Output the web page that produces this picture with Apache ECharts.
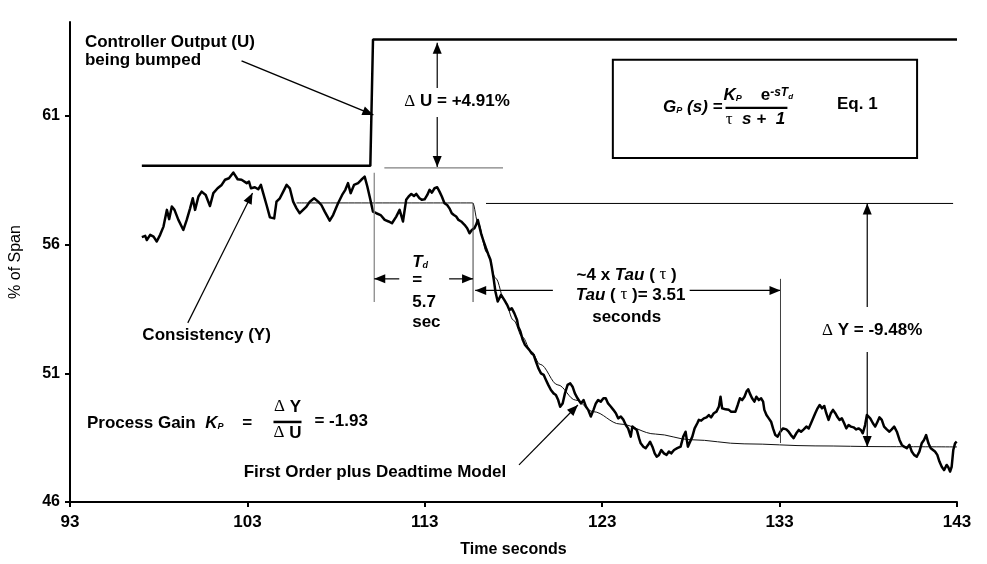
<!DOCTYPE html>
<html><head><meta charset="utf-8">
<script src="https://cdn.jsdelivr.net/npm/echarts@6/dist/echarts.min.js"></script>
<style>html,body{margin:0;padding:0;background:#fff}#c{width:987px;height:564px}</style>
</head><body><div id="c"></div><script>
// ---- data ----
const xTickValues = [93, 103, 113, 123, 133, 143];
const yTickValues = [46, 51, 56, 61];

const consistencyTime = [
97.05,97.24,97.33,97.52,97.71,97.89,98.08,98.27,98.46,98.59,98.74,98.89,99.11,99.39,99.58,99.77,99.92,100.05,100.24,100.42,
100.65,100.89,101.08,101.32,101.55,101.74,101.96,102.21,102.45,102.67,102.96,103.09,103.20,103.42,103.61,103.76,103.89,104.08,104.27,104.51,
104.64,104.83,105.02,105.21,105.39,105.58,105.77,105.95,106.14,106.33,106.52,106.76,106.99,107.17,107.36,107.64,107.83,108.11,108.34,108.52,
108.67,108.82,109.01,109.24,109.42,109.61,109.76,109.89,110.08,110.27,110.51,110.74,110.96,111.15,111.39,111.58,111.77,
111.95,112.09,112.24,112.39,112.52,112.70,112.84,112.99,113.14,113.27,113.40,113.55,113.70,113.83,113.96,114.11,114.26,114.39,114.52,114.64,
114.77,114.90,115.05,115.24,115.39,115.52,115.65,115.80,115.89,115.99,116.08,116.17,116.32,116.45,116.59,116.70,116.77,116.89,116.98,117.11,
117.20,117.30,117.39,117.48,117.64,117.77,117.90,118.05,118.20,118.27,118.39,118.52,118.65,118.76,118.89,119.02,119.14,119.27,119.40,119.55,
119.70,119.83,119.96,120.11,120.26,120.39,120.52,120.63,120.77,120.90,121.05,121.20,121.33,121.46,121.61,121.80,121.95,122.08,122.21,122.36,
122.51,122.64,122.77,122.92,123.07,123.20,123.33,123.48,123.63,123.77,123.90,124.05,124.20,124.33,124.46,124.61,124.70,124.80,124.95,125.08,
125.17,125.32,125.45,125.58,125.70,125.83,125.96,126.07,126.20,126.33,126.48,126.63,126.76,126.89,127.05,127.23,
127.42,127.57,127.70,127.83,127.94,128.08,128.21,128.36,128.45,128.58,128.73,128.88,129.01,129.14,129.29,129.44,129.58,129.67,129.76,129.95,
130.14,130.27,130.38,130.51,130.64,130.76,130.89,131.02,131.13,131.23,131.32,131.45,131.58,131.69,131.83,131.96,132.07,132.14,132.26,132.39,
132.52,132.63,132.76,132.89,133.04,133.19,133.38,133.51,133.64,133.79,133.94,134.08,134.21,134.36,134.51,134.64,134.77,134.88,135.01,135.14,
135.26,135.39,135.52,135.63,135.76,135.89,136.01,136.14,136.27,136.38,136.51,136.64,136.76,136.89,137.02,137.17,137.32,137.45,137.58,137.69,
137.82,137.92,138.01,138.11,138.26,138.39,138.52,138.63,138.76,138.89,139.04,139.19,139.32,139.46,139.61,139.76,139.89,140.02,140.17,140.32,
140.45,140.58,140.73,140.88,141.01,141.14,141.26,141.39,141.52,141.63,141.76,141.89,142.01,142.14,142.27,142.42,142.51,142.61,142.70,142.79,
142.89,142.98
];
const consistencyValue = [
56.29,56.34,56.18,56.38,56.31,56.12,56.38,56.70,57.35,56.99,57.48,57.35,56.96,56.57,56.96,57.41,57.80,57.35,57.87,58.06,
57.93,57.50,58.00,58.19,58.32,58.52,58.58,58.80,58.54,58.52,58.39,58.45,58.19,58.23,58.15,58.32,58.00,57.54,57.06,57.02,
57.67,57.80,58.06,58.32,58.19,57.67,57.41,57.22,57.35,57.48,57.67,57.80,57.67,57.54,57.28,56.93,57.15,57.61,57.93,58.13,
58.39,58.00,58.32,58.39,58.52,58.64,58.26,57.87,57.28,57.22,57.15,56.96,56.90,56.83,57.09,57.35,56.90,
57.74,57.87,57.97,57.89,57.97,57.80,57.74,57.76,57.93,58.13,58.02,58.19,58.23,58.06,57.87,57.61,57.54,57.41,57.22,57.15,
57.09,56.96,56.90,56.77,56.64,56.44,56.57,56.64,56.77,56.96,56.70,56.44,56.12,55.86,55.60,55.41,55.15,54.63,54.18,53.79,
53.85,54.05,54.11,53.85,53.66,53.46,53.53,53.33,53.07,52.81,52.62,52.30,52.10,52.17,51.91,51.78,51.71,51.45,51.20,51.00,
50.94,50.74,50.55,50.35,50.22,50.16,49.96,49.70,49.83,50.22,50.55,50.61,50.48,50.22,50.03,49.83,49.96,49.71,49.58,49.32,
49.58,49.83,49.96,49.90,50.03,50.03,49.83,49.71,49.58,49.45,49.25,49.32,49.19,48.99,48.86,48.54,48.93,48.86,48.80,48.47,
48.28,48.15,48.09,48.21,48.34,48.15,47.89,47.76,47.83,48.02,47.89,47.83,47.96,47.89,48.02,48.09,
48.15,48.54,48.73,48.15,48.22,48.54,48.86,49.06,49.19,49.16,49.25,49.29,49.38,49.29,49.45,49.51,49.71,50.09,49.64,49.60,
49.58,49.51,49.58,49.51,49.77,50.03,49.96,50.09,50.29,50.38,50.22,50.03,49.90,50.09,49.96,50.03,49.90,49.58,49.38,49.25,
49.12,48.86,48.60,48.54,48.73,48.86,48.82,48.73,48.60,48.48,48.67,48.80,48.73,48.82,48.93,48.86,49.06,49.12,49.45,49.64,
49.77,49.64,49.73,49.45,49.19,49.45,49.58,49.45,49.29,49.19,49.25,49.06,48.86,48.99,48.93,48.90,48.82,48.86,48.80,48.67,
48.99,49.38,49.32,49.25,49.06,48.93,49.12,49.29,49.19,48.93,48.82,48.73,48.82,48.93,48.73,48.41,48.22,48.15,48.09,48.22,
47.96,47.83,47.76,47.96,48.28,48.41,48.60,48.28,48.09,48.02,47.96,47.83,47.57,47.37,47.24,47.44,47.35,47.18,47.37,48.02,
48.28,48.35
];

const controllerTime  = [97.05, 109.93, 110.08, 143];
const controllerValue = [59.06, 59.06, 63.97, 63.97];

const modelTime  = [105.77, 115.70, 116.0, 116.5, 117.0, 117.5, 118.0, 118.5, 119.0, 119.5, 120.5, 121.5, 122.5, 124, 126, 128, 131, 135, 139, 143];
const modelValue = [57.62, 57.62, 56.84, 55.69, 54.69, 53.82, 53.06, 52.41, 51.85, 51.35, 50.55, 49.96, 49.51, 49.03, 48.64, 48.42, 48.26, 48.18, 48.15, 48.14];

// ---- annotation geometry (data coordinates) ----
const FONT = "'Liberation Sans', Arial, sans-serif";
const GREEK = "'Liberation Serif', 'DejaVu Serif', serif";
const annoLines = [
  {from:[102.67,63.14], to:[110.10,61.04], head:true, color:'#000', w:1.5},
  {from:[113.70,62.09], to:[113.70,63.84], head:true, color:'#000', w:1.2},
  {from:[113.70,60.96], to:[113.70,59.02], head:true, color:'#000', w:1.2},
  {from:[110.72,58.98], to:[117.41,58.98], head:false, color:'#808080', w:1.2},
  {from:[110.15,58.79], to:[110.15,53.77], head:false, color:'#808080', w:1.2},
  {from:[115.72,57.62], to:[115.72,53.77], head:false, color:'#404040', w:1},
  {from:[111.56,54.67], to:[110.15,54.67], head:true, color:'#000', w:1.2},
  {from:[114.37,54.67], to:[115.72,54.67], head:true, color:'#000', w:1.2},
  {from:[120.22,54.22], to:[115.84,54.22], head:true, color:'#000', w:1.2},
  {from:[127.93,54.22], to:[133.05,54.22], head:true, color:'#000', w:1.2},
  {from:[133.05,54.67], to:[133.05,48.29], head:false, color:'#404040', w:1},
  {from:[116.45,57.60], to:[142.78,57.60], head:false, color:'#000', w:1},
  {from:[137.94,53.58], to:[137.94,57.60], head:true, color:'#000', w:1.2},
  {from:[137.94,51.83], to:[137.94,48.14], head:true, color:'#000', w:1.2},
  {from:[99.64,52.96], to:[103.29,58.01], head:true, color:'#000', w:1.2},
  {from:[118.31,47.44], to:[121.63,49.77], head:true, color:'#000', w:1.2},
  {from:[104.47,49.11], to:[106.05,49.11], head:false, color:'#000', w:2.5},
  {from:[129.95,61.31], to:[133.44,61.31], head:false, color:'#000', w:2.2}
];
const eqBox = {from:[123.6,63.18], to:[140.75,59.37]};

const rich = {
  b:  {fontFamily:FONT, fontWeight:'bold', fontSize:17, fill:'#000'},
  bi: {fontFamily:FONT, fontWeight:'bold', fontStyle:'italic', fontSize:17, fill:'#000'},
  sub:{fontFamily:FONT, fontWeight:'bold', fontStyle:'italic', fontSize:9, fill:'#000', verticalAlign:'bottom'},
  sup:{fontFamily:FONT, fontWeight:'bold', fontStyle:'italic', fontSize:12, fill:'#000', verticalAlign:'top'},
  supsub:{fontFamily:FONT, fontWeight:'bold', fontStyle:'italic', fontSize:8, fill:'#000', verticalAlign:'top', padding:[6,0,0,0]},
  g:  {fontFamily:GREEK, fontSize:17, fill:'#000'},
  gi: {fontFamily:GREEK, fontSize:17, fill:'#000'}
};
const annoTexts = [
  {at:[93.84,63.88], align:'left', text:'{b|Controller Output (U)}'},
  {at:[93.84,63.18], align:'left', text:'{b|being bumped}'},
  {at:[114.82,61.55], align:'center', text:'{g|\u0394}{b| U = +4.91%}'},
  {at:[112.29,55.33], align:'left', text:'{bi|T}{sub|d}'},
  {at:[112.29,54.63], align:'left', text:'{b|=}'},
  {at:[112.29,53.77], align:'left', text:'{b|5.7}'},
  {at:[112.29,52.99], align:'left', text:'{b|sec}'},
  {at:[124.38,54.82], align:'center', text:'{b|~4 x }{bi|Tau}{b| ( }{g|\u03c4}{b| )}'},
  {at:[124.60,54.05], align:'center', text:'{bi|Tau}{b| ( }{g|\u03c4}{b| )= 3.51}'},
  {at:[124.38,53.19], align:'center', text:'{b|seconds}'},
  {at:[138.22,52.68], align:'center', text:'{g|\u0394}{b| Y = -9.48%}'},
  {at:[100.70,52.49], align:'center', text:'{b|Consistency (Y)}'},
  {at:[93.96,49.07], align:'left', text:'{b|Process Gain  }{bi|K}{sub|P}{b|    =}'},
  {at:[105.26,49.69], align:'center', text:'{g|\u0394}{b| Y}'},
  {at:[105.26,48.68], align:'center', text:'{g|\u0394}{b| U}'},
  {at:[106.78,49.15], align:'left', text:'{b|= -1.93}'},
  {at:[102.79,47.17], align:'left', text:'{b|First Order plus Deadtime Model}'},
  {at:[129.78,61.35], align:'right', text:'{bi|G}{sub|P}{bi| (s) =}'},
  {at:[131.80,61.82], align:'center', text:'{bi|K}{sub|P}{b|    e}{sup|-sT}{supsub|d}'},
  {at:[131.64,60.85], align:'center', text:'{g|\u03c4}{bi|  s +  1}'},
  {at:[137.38,61.47], align:'center', text:'{b|Eq. 1}'}
];

const zip = (a, b) => a.map((t, i) => [t, b[i]]);

function renderLine(params, api) {
  const l = annoLines[params.dataIndex];
  const p1 = api.coord(l.from), p2 = api.coord(l.to);
  const children = [{type:'line', shape:{x1:p1[0], y1:p1[1], x2:p2[0], y2:p2[1]},
    style:{stroke:l.color, lineWidth:l.w}}];
  if (l.head) {
    const ang = Math.atan2(p2[1]-p1[1], p2[0]-p1[0]);
    const len = 11, hw = 4.5;
    const bx = p2[0] - len*Math.cos(ang), by = p2[1] - len*Math.sin(ang);
    const nx = -Math.sin(ang)*hw, ny = Math.cos(ang)*hw;
    children.push({type:'polygon', shape:{points:[[p2[0],p2[1]],[bx+nx,by+ny],[bx-nx,by-ny]]},
      style:{fill:l.color}});
  }
  return {type:'group', children};
}
function renderText(params, api) {
  const a = annoTexts[params.dataIndex];
  const p = api.coord(a.at);
  return {type:'text', x:p[0], y:p[1], style:{text:a.text, rich:rich, align:a.align, verticalAlign:'middle',
    font:'bold 17px ' + FONT, fill:'#000'}};
}
function renderBox(params, api) {
  const p1 = api.coord(eqBox.from), p2 = api.coord(eqBox.to);
  return {type:'rect', shape:{x:p1[0], y:p1[1], width:p2[0]-p1[0], height:p2[1]-p1[1]},
    style:{fill:'#fff', stroke:'#000', lineWidth:2}};
}

const chart = echarts.init(document.getElementById('c'), null, {renderer:'canvas'});
chart.setOption({
  animation:false,
  backgroundColor:'#fff',
  grid:{left:68, right:30, top:22, bottom:62, containLabel:false},
  xAxis:{type:'value', min:93, max:143, interval:10,
    name:'Time seconds', nameLocation:'middle', nameGap:40,
    nameTextStyle:{fontFamily:FONT, fontWeight:'bold', fontSize:16, color:'#000'},
    axisLine:{lineStyle:{color:'#000', width:2}},
    axisTick:{show:true, length:5, lineStyle:{color:'#000', width:2}, customValues:xTickValues},
    axisLabel:{fontFamily:FONT, fontWeight:'bold', fontSize:17, color:'#000', margin:12, customValues:xTickValues},
    splitLine:{show:false}},
  yAxis:{type:'value', min:46, max:64.65, interval:5,
    name:'% of Span', nameLocation:'middle', nameGap:46, nameRotate:90,
    nameTextStyle:{fontFamily:FONT, fontSize:16, color:'#000'},
    axisLine:{show:true, lineStyle:{color:'#000', width:2}},
    axisTick:{show:true, length:5, lineStyle:{color:'#000', width:2}, customValues:yTickValues},
    axisLabel:{fontFamily:FONT, fontWeight:'bold', fontSize:16, color:'#000', margin:10, customValues:yTickValues},
    splitLine:{show:false}},
  series:[
    {type:'custom', renderItem:renderBox, data:[eqBox.from], z:1, silent:true},
    {type:'line', name:'Model', data:zip(modelTime, modelValue), showSymbol:false, smooth:0.35, smoothMonotone:'x',
      lineStyle:{color:'#111', width:1}, z:2, silent:true},
    {type:'line', name:'Consistency', data:zip(consistencyTime, consistencyValue), showSymbol:false,
      lineStyle:{color:'#000', width:2.5, join:'round'}, z:3, silent:true},
    {type:'line', name:'Controller Output', data:zip(controllerTime, controllerValue), showSymbol:false,
      lineStyle:{color:'#000', width:2.5}, z:3, silent:true},
    {type:'custom', renderItem:renderLine, data:annoLines.map(l => l.from), z:4, silent:true},
    {type:'custom', renderItem:renderText, data:annoTexts.map(a => a.at), z:5, silent:true}
  ]
});
</script></body></html>
